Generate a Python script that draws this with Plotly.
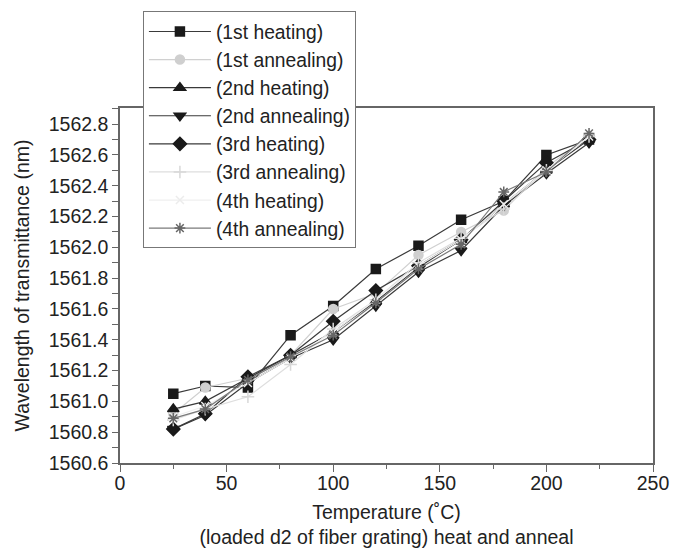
import plotly.graph_objects as go

temps = [25, 40, 60, 80, 100, 120, 140, 160, 180, 200, 220]

names = ["(1st heating)", "(1st annealing)", "(2nd heating)", "(2nd annealing)",
         "(3rd heating)", "(3rd annealing)", "(4th heating)", "(4th annealing)"]

heat1 = [1561.05, 1561.10, 1561.09, 1561.43, 1561.62, 1561.86, 1562.01, 1562.18, 1562.30, 1562.60, 1562.70]
anneal1 = [1560.92, 1561.09, 1561.15, 1561.30, 1561.60, 1561.70, 1561.95, 1562.10, 1562.24, 1562.52, 1562.72]
heat2 = [1560.95, 1561.00, 1561.15, 1561.30, 1561.45, 1561.65, 1561.87, 1562.05, 1562.28, 1562.50, 1562.70]
anneal2 = [1560.82, 1560.91, 1561.12, 1561.28, 1561.40, 1561.62, 1561.84, 1561.98, 1562.27, 1562.48, 1562.68]
heat3 = [1560.82, 1560.92, 1561.16, 1561.30, 1561.52, 1561.72, 1561.88, 1562.05, 1562.30, 1562.55, 1562.70]
anneal3 = [1560.88, 1560.95, 1561.03, 1561.24, 1561.47, 1561.66, 1561.90, 1562.06, 1562.25, 1562.50, 1562.72]
heat4 = [1560.90, 1560.97, 1561.12, 1561.28, 1561.45, 1561.66, 1561.88, 1562.05, 1562.28, 1562.50, 1562.72]
anneal4 = [1560.89, 1560.95, 1561.14, 1561.29, 1561.43, 1561.64, 1561.86, 1562.02, 1562.36, 1562.49, 1562.74]

series = [heat1, anneal1, heat2, anneal2, heat3, anneal3, heat4, anneal4]
symbols = ["square", "circle", "triangle-up", "triangle-down", "diamond", "cross-thin", "x-thin", "asterisk"]
line_colors = ["#3a3a3a", "#d0d0d0", "#3a3a3a", "#3a3a3a", "#3a3a3a", "#dedede", "#efefef", "#7a7a7a"]
marker_colors = ["#1a1a1a", "#cfcfcf", "#1a1a1a", "#1a1a1a", "#1a1a1a", "#d8d8d8", "#ececec", "#666666"]
sizes = [9, 9, 10, 10, 10, 9, 8, 9]

fig = go.Figure()
for name, ys, sym, lc, mc, sz in zip(names, series, symbols, line_colors, marker_colors, sizes):
    fig.add_trace(go.Scatter(
        x=temps, y=ys, name=name, mode="lines+markers",
        line=dict(color=lc, width=1.2),
        marker=dict(symbol=sym, size=sz, color=mc, line=dict(color=mc, width=1.5)),
    ))

font_family = "Liberation Sans, Arial, sans-serif"
fig.update_layout(
    width=678, height=548,
    margin=dict(l=120, r=25, t=104, b=85),
    paper_bgcolor="white", plot_bgcolor="white",
    font=dict(family=font_family, color="#222", size=17),
    showlegend=True,
    legend=dict(
        x=0.043, y=1.272, xanchor="left", yanchor="top",
        bgcolor="white", bordercolor="#777", borderwidth=1,
        font=dict(size=19.3, color="#222"),
        itemwidth=62, tracegroupgap=0,
    ),
    xaxis=dict(
        range=[0, 250], tickvals=[0, 50, 100, 150, 200, 250],
        showgrid=False, zeroline=False, automargin=False,
        showline=True, linecolor="#666", linewidth=1.5, mirror=True,
        ticks="outside", ticklen=7, tickcolor="#666", tickwidth=1.3,
        ticklabelstandoff=-5,
        minor=dict(dtick=25, ticks="outside", ticklen=4, tickcolor="#666", tickwidth=1.3),
        tickfont=dict(size=19.5),
        title=dict(text="Temperature (˚C)<br>(loaded d2 of fiber grating) heat and anneal",
                   font=dict(size=19.5), standoff=12),
    ),
    yaxis=dict(
        range=[1560.6, 1562.905], tickvals=[1560.6 + 0.2 * i for i in range(12)],
        ticktext=["%.1f" % (1560.6 + 0.2 * i) for i in range(12)],
        showgrid=False, zeroline=False, automargin=False,
        showline=True, linecolor="#666", linewidth=1.5, mirror=True,
        ticks="outside", ticklen=6, tickcolor="#666", tickwidth=1.3,
        minor=dict(dtick=0.1, tick0=1560.6, ticks="outside", ticklen=6, tickcolor="#666", tickwidth=1.3),
        tickfont=dict(size=19.5),
        title=dict(text="Wavelength of transmittance (nm)", font=dict(size=19.5), standoff=14),
    ),
)

fig.write_html("out.html")
